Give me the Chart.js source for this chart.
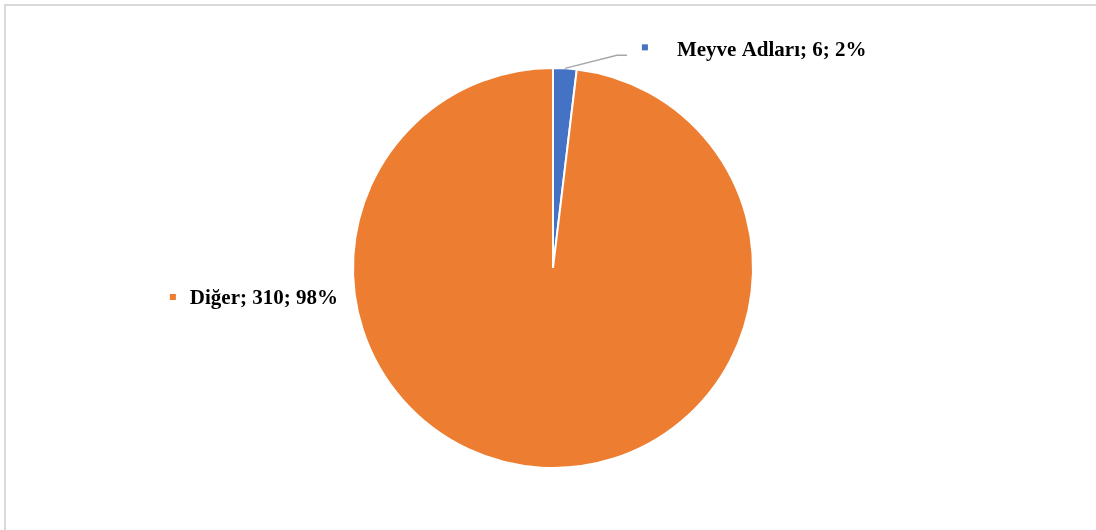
<!DOCTYPE html>
<html>
<head>
<meta charset="utf-8">
<script src="https://cdn.jsdelivr.net/npm/chart.js@4"></script>
<style>
  html, body { margin: 0; padding: 0; background: #fff; }
  #wrap { position: relative; width: 1096px; height: 530px; }
  #frame {
    position: absolute; left: 4px; top: 4px; right: -10px; bottom: -10px;
    border-left: 2px solid #d9d9d9; border-top: 2px solid #d9d9d9;
  }
  canvas { position: absolute; left: 0; top: 0; }
</style>
</head>
<body>
<div id="wrap">
  <div id="frame"></div>
  <canvas id="pieChart" width="1096" height="530"></canvas>
</div>
<script>
const categories = ['Meyve Adları', 'Diğer'];
const counts = [6, 310];
const percents = [2, 98];
const colors = ['#4472c4', '#ed7d31'];

// etiketler: kare işaret + "ad; sayı; yüzde"
const labelPlugin = {
  id: 'sliceLabels',
  afterDatasetsDraw(chart) {
    const ctx = chart.ctx;
    const arcs = chart.getDatasetMeta(0).data;
    ctx.save();
    ctx.font = 'bold 21px "Liberation Serif", "Times New Roman", serif';
    ctx.textBaseline = 'middle';
    ctx.fillStyle = '#000';

    // küçük dilim: kılavuz çizgi ile sağ üstte
    const a = arcs[0];
    const mid = (a.startAngle + a.endAngle) / 2;
    const px = a.x + Math.cos(mid) * a.outerRadius;
    const py = a.y + Math.sin(mid) * a.outerRadius;
    const ex = px + 52, ey = py - 13;
    ctx.strokeStyle = '#a6a6a6';
    ctx.lineWidth = 1.5;
    ctx.beginPath();
    ctx.moveTo(px, py);
    ctx.lineTo(ex, ey);
    ctx.lineTo(ex + 10, ey);
    ctx.stroke();
    ctx.fillStyle = colors[0];
    ctx.fillRect(ex + 25, ey - 11, 6, 6);
    ctx.fillStyle = '#000';
    ctx.textAlign = 'left';
    ctx.fillText(`${categories[0]}; ${counts[0]}; ${percents[0]}%`, ex + 60, ey - 5);

    // büyük dilim: pastanın solunda
    const b = arcs[1];
    const tx = b.x - b.outerRadius - 15;
    const ty = b.y + 31;
    ctx.textAlign = 'right';
    const txt = `${categories[1]}; ${counts[1]}; ${percents[1]}%`;
    ctx.fillText(txt, tx, ty);
    const w = ctx.measureText(txt).width;
    ctx.fillStyle = colors[1];
    ctx.fillRect(tx - w - 20, ty - 5, 6, 6);
    ctx.restore();
  }
};

new Chart(document.getElementById('pieChart'), {
  type: 'pie',
  data: {
    labels: categories,
    datasets: [{
      data: counts,
      backgroundColor: colors,
      borderColor: '#ffffff',
      borderWidth: 2
    }]
  },
  options: {
    responsive: false,
    animation: false,
    layout: { padding: { top: 67, bottom: 61, left: 352, right: 342 } },
    plugins: {
      legend: { display: false },
      tooltip: { enabled: false }
    }
  },
  plugins: [labelPlugin]
});
</script>
</body>
</html>
